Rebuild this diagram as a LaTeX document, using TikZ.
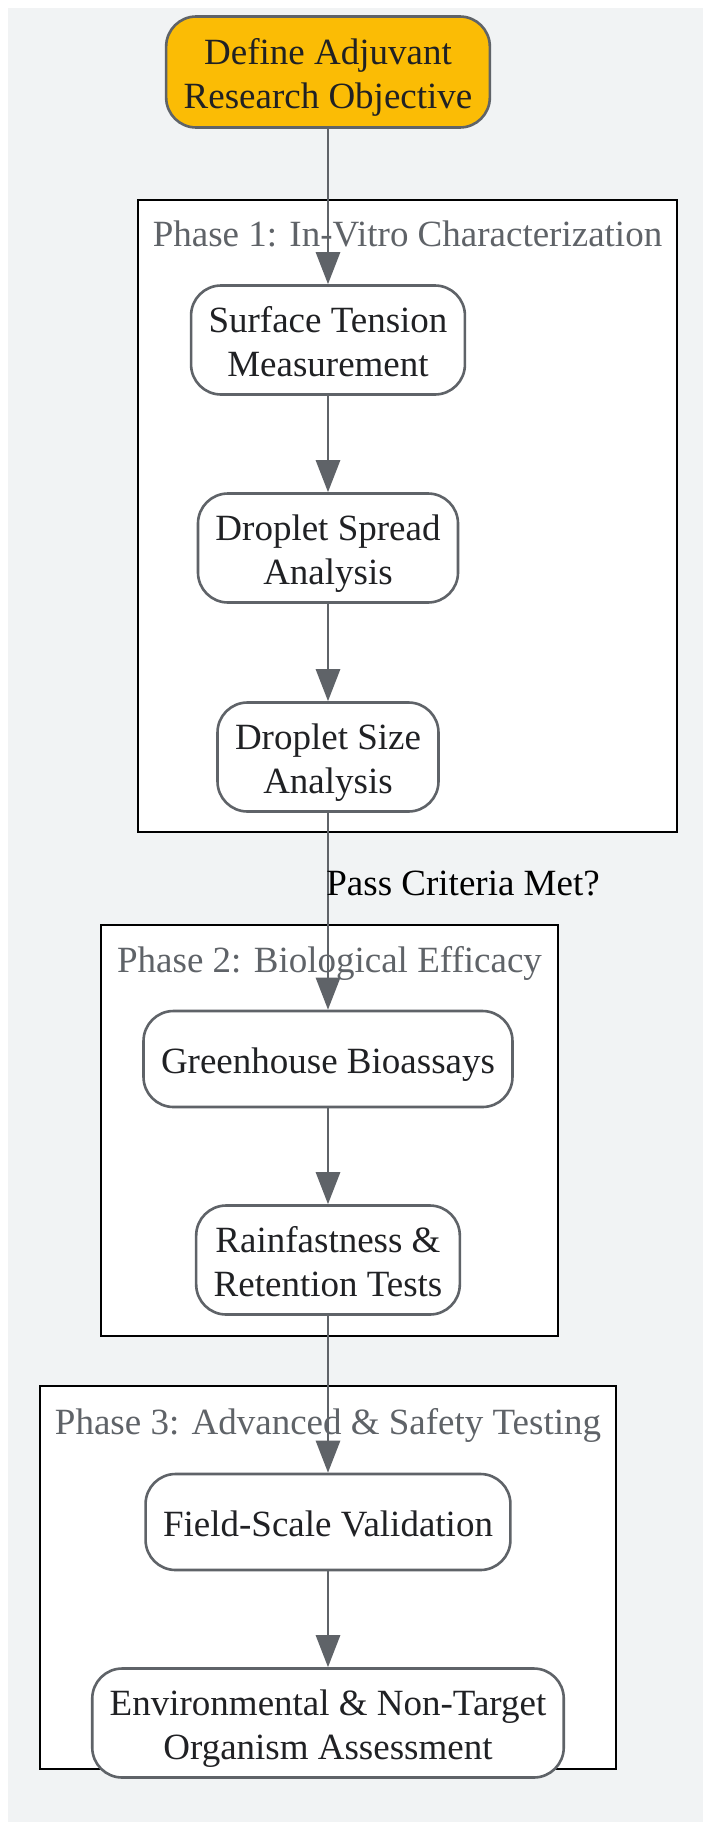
\documentclass[tikz,border=0pt]{standalone}
\usepackage{fontspec}
\setmainfont{Liberation Serif}
\usetikzlibrary{arrows.meta,positioning}
\definecolor{bgc}{HTML}{F1F3F4}
\definecolor{edgec}{HTML}{5F6368}
\definecolor{txtc}{HTML}{202124}
\definecolor{startc}{HTML}{FBBC05}
\tikzset{
  every node/.style={font=\fontsize{37}{44}\selectfont},
  proc/.style={draw=edgec, line width=2.6pt, fill=white, rounded corners=30pt,
    align=center, text=txtc, inner xsep=17.5pt, inner ysep=0pt, minimum height=109pt,
    text height=80pt, text depth=8pt},
  procone/.style={proc, minimum height=96pt, text height=37pt, text depth=8pt},
  startbox/.style={proc, fill=startc, minimum height=111pt},
  cluster/.style={draw=black, line width=2.2pt, fill=white, inner sep=0pt},
  clabel/.style={text=edgec, inner sep=0pt, text height=25pt, text depth=8pt},
  flow/.style={draw=edgec, line width=2.8pt, -{Triangle[length=32pt,width=24pt]}},
  elabel/.style={text=black, inner sep=0pt}
}
\begin{document}
\begin{tikzpicture}[x=1pt,y=1pt]
\fill[white] (0,0) rectangle (703,-1823);
\useasboundingbox (0,0) rectangle (703,-1823);
\fill[bgc] (8,-8) rectangle (703,-1822);
% clusters
\node[cluster, minimum width=539pt, minimum height=632pt] (c1) at (407.5,-516) {};
\node[cluster, minimum width=457pt, minimum height=411pt] (c2) at (329.5,-1130.5) {};
\node[cluster, minimum width=576pt, minimum height=383pt] (c3) at (328,-1577.5) {};
\node[clabel] (l1) at (407.5,-238) {Phase 1: In-Vitro Characterization};
\node[clabel] (l2) at (329.5,-964) {Phase 2: Biological Efficacy};
\node[clabel] (l3) at (328,-1426) {Phase 3: Advanced \& Safety Testing};
% nodes
\node[startbox] (start) at (328,-72) {Define Adjuvant\\Research Objective};
\node[proc] (surf) at (328,-340) {Surface Tension\\Measurement};
\node[proc] (spread) at (328,-548) {Droplet Spread\\Analysis};
\node[proc] (dsize) at (328,-757) {Droplet Size\\Analysis};
\node[procone] (green) at (328,-1059) {Greenhouse Bioassays};
\node[proc] (rain) at (328,-1260) {Rainfastness \&\\Retention Tests};
\node[procone] (field) at (328,-1522) {Field-Scale Validation};
\node[proc] (env) at (328,-1723) {Environmental \& Non-Target\\Organism Assessment};
% edges
\draw[flow] (start) -- (surf);
\draw[flow] (surf) -- (spread);
\draw[flow] (spread) -- (dsize);
\draw[flow] (dsize) -- node[elabel, pos=0.36, right, xshift=-3pt] (pl) {Pass Criteria Met?} (green);
\draw[flow] (green) -- (rain);
\draw[flow] (rain) -- (field);
\draw[flow] (field) -- (env);
\end{tikzpicture}
\end{document}
